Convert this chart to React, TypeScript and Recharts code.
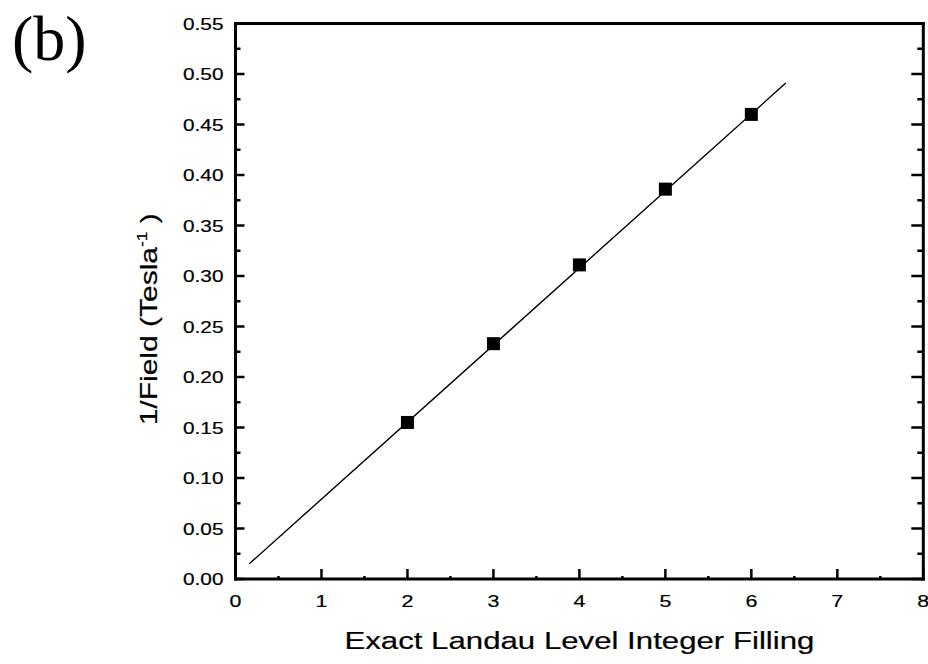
import { ScatterChart, Scatter, XAxis, YAxis } from "recharts";

// measured points: integer filling vs 1/B
const fillingLevels = [2, 3, 4, 5, 6];
const inverseField = [0.155, 0.233, 0.311, 0.386, 0.46];

// linear fit endpoints
const fitFilling = [0.16, 6.4];
const fitInverseField = [0.015, 0.491];

const xTicks = [0, 0.5, 1, 1.5, 2, 2.5, 3, 3.5, 4, 4.5, 5, 5.5, 6, 6.5, 7, 7.5, 8];
const yTicks = [
  0, 0.025, 0.05, 0.075, 0.1, 0.125, 0.15, 0.175, 0.2, 0.225, 0.25, 0.275,
  0.3, 0.325, 0.35, 0.375, 0.4, 0.425, 0.45, 0.475, 0.5, 0.525, 0.55,
];

const points = fillingLevels.map((x, i) => ({ x, y: inverseField[i] }));
const fit = fitFilling.map((x, i) => ({ x, y: fitInverseField[i] }));

const FONT = "'Liberation Sans', Arial, Helvetica, sans-serif";
const TICK_W = 2.5;
// slightly heavier glyphs, like the printed figure
const INK = { fill: "#000", stroke: "#000", strokeWidth: 0.2 };

const onStep = (v: number, step: number) => Math.abs(v / step - Math.round(v / step)) < 1e-6;

const BottomTick = ({ x, y, payload }: any) => {
  const major = onStep(payload.value, 1);
  return (
    <g>
      <line x1={x} y1={y} x2={x} y2={y - (major ? 10 : 3)} stroke="#000" strokeWidth={TICK_W} />
      {major && (
        <text
          transform={`translate(${x},${y + 28}) scale(1.3,1)`}
          textAnchor="middle"
          fontSize={16.5}
          fontFamily={FONT}
          {...INK}
        >
          {payload.value}
        </text>
      )}
    </g>
  );
};

const TopTick = ({ x, y, payload }: any) => {
  const major = onStep(payload.value, 1);
  return <line x1={x} y1={y} x2={x} y2={y + (major ? 11 : 2)} stroke="#000" strokeWidth={TICK_W} />;
};

const LeftTick = ({ x, y, payload }: any) => {
  const major = onStep(payload.value, 0.05);
  return (
    <g>
      <line x1={x} y1={y} x2={x + (major ? 9 : 5)} y2={y} stroke="#000" strokeWidth={TICK_W} />
      {major && (
        <text
          transform={`translate(${x - 12},${y + 6}) scale(1.3,1)`}
          textAnchor="end"
          fontSize={16}
          fontFamily={FONT}
          {...INK}
        >
          {payload.value.toFixed(2)}
        </text>
      )}
    </g>
  );
};

const RightTick = ({ x, y, payload }: any) => {
  const major = onStep(payload.value, 0.05);
  return <line x1={x} y1={y} x2={x - (major ? 12 : 6)} y2={y} stroke="#000" strokeWidth={TICK_W} />;
};

const XTitle = ({ viewBox }: any) => (
  <text
    transform={`translate(${viewBox.x + viewBox.width / 2},${viewBox.y + 70}) scale(1.3,1)`}
    textAnchor="middle"
    fontSize={24}
    fontFamily={FONT}
    {...INK}
  >
    Exact Landau Level Integer Filling
  </text>
);

const YTitle = ({ viewBox }: any) => (
  <text
    transform={`translate(157,${viewBox.y + viewBox.height / 2 + 18}) rotate(-90) scale(1.25,1)`}
    textAnchor="middle"
    fontSize={24}
    fontFamily={FONT}
    {...INK}
  >
    1/Field (Tesla
    <tspan dy={-10} fontSize={14}>-1</tspan>
    <tspan dy={10}> )</tspan>
  </text>
);

const Square = ({ cx, cy }: any) => <rect x={cx - 6.5} y={cy - 6.5} width={13} height={13} fill="#000" />;

const axisLine = { stroke: "#000", strokeWidth: 3, strokeLinecap: "square" as const };

export default function App() {
  return (
    <div style={{ position: "absolute", left: 0, top: 0, width: 928, height: 664, background: "#fff" }}>
      <div
        style={{
          position: "absolute",
          left: 12,
          top: 3,
          fontFamily: "'Liberation Serif', 'Times New Roman', serif",
          fontSize: 64,
          lineHeight: "72px",
          color: "#000",
        }}
      >
        (b)
      </div>
      <ScatterChart width={928} height={664} margin={{ top: 22.5, right: 3.7, bottom: 45, left: 175.5 }}>
        <XAxis
          dataKey="x"
          type="number"
          domain={[0, 8]}
          ticks={xTicks}
          interval={0}
          allowDataOverflow
          axisLine={axisLine}
          tickLine={false}
          tickSize={0}
          tickMargin={0}
          tick={<BottomTick />}
          height={40}
          label={{ content: <XTitle /> }}
        />
        <XAxis
          xAxisId="top"
          orientation="top"
          type="number"
          domain={[0, 8]}
          ticks={xTicks}
          interval={0}
          allowDataOverflow
          axisLine={axisLine}
          tickLine={false}
          tickSize={0}
          tickMargin={0}
          tick={<TopTick />}
          height={1}
        />
        <YAxis
          dataKey="y"
          type="number"
          domain={[0, 0.55]}
          ticks={yTicks}
          interval={0}
          allowDataOverflow
          axisLine={axisLine}
          tickLine={false}
          tickSize={0}
          tickMargin={0}
          tick={<LeftTick />}
          width={60}
          label={{ content: <YTitle /> }}
        />
        <YAxis
          yAxisId="right"
          orientation="right"
          type="number"
          domain={[0, 0.55]}
          ticks={yTicks}
          interval={0}
          allowDataOverflow
          axisLine={axisLine}
          tickLine={false}
          tickSize={0}
          tickMargin={0}
          tick={<RightTick />}
          width={1}
        />
        <Scatter
          data={fit}
          line={{ stroke: "#000", strokeWidth: 1.4 }}
          shape={() => <g />}
          isAnimationActive={false}
        />
        <Scatter data={points} shape={<Square />} isAnimationActive={false} />
      </ScatterChart>
    </div>
  );
}
